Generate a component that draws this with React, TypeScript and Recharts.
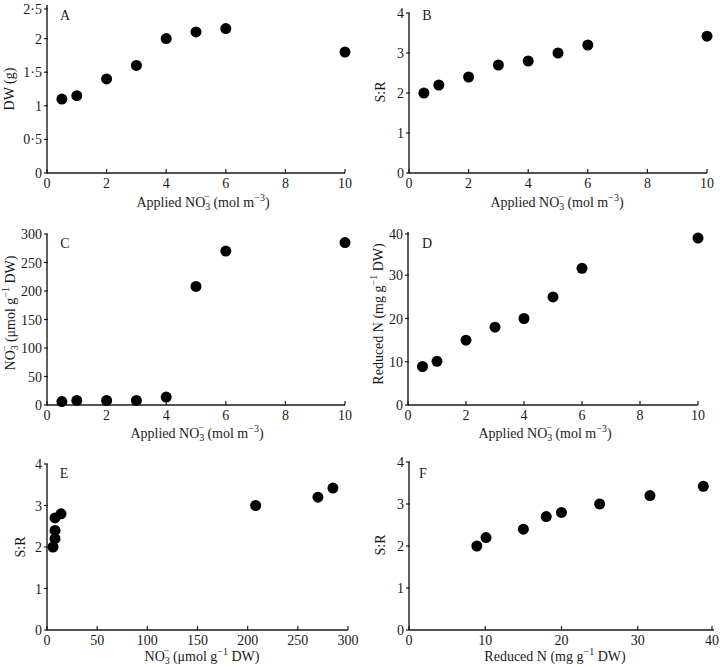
import React from "react";
import { ScatterChart, Scatter, XAxis, YAxis } from "recharts";

const appliedNO3 = [0.5, 1, 2, 3, 4, 5, 6, 10];
const dryWeight = [1.1, 1.15, 1.4, 1.6, 2.0, 2.1, 2.15, 1.8];
const shootRoot = [2.0, 2.2, 2.4, 2.7, 2.8, 3.0, 3.2, 3.42];
const tissueNO3 = [6, 8, 8, 8, 14, 208, 270, 285];
const reducedN = [8.9, 10.1, 15, 18, 20, 25, 31.6, 38.6];

const appliedTicks = [0, 2, 4, 6, 8, 10];
const dwTicks = [0, 0.5, 1, 1.5, 2, 2.5];
const srTicks = [0, 1, 2, 3, 4];
const no3Ticks = [0, 50, 100, 150, 200, 250, 300];
const redNTicks = [0, 10, 20, 30, 40];

const FONT = "'Liberation Serif', 'DejaVu Serif', serif";
const INK = "#1a1a1a";

const fmt = (v: number) => String(v).replace(".", "·");

const XTick = (props: any) => {
  const { x, y, payload } = props;
  return (
    <g>
      <line x1={x} y1={y} x2={x} y2={y - 4} stroke={INK} strokeWidth={1.2} />
      <text x={x} y={y + 15} textAnchor="middle" fontFamily={FONT} fontSize={14} fill={INK}>
        {fmt(payload.value)}
      </text>
    </g>
  );
};

const YTick = (props: any) => {
  const { x, y, payload } = props;
  return (
    <g>
      <line x1={x - 3} y1={y} x2={x + 1} y2={y} stroke={INK} strokeWidth={1.2} />
      <text x={x - 5} y={y + 5} textAnchor="end" fontFamily={FONT} fontSize={14} fill={INK}>
        {fmt(payload.value)}
      </text>
    </g>
  );
};

// NO3- with stacked sub/superscript, baseline restored afterwards
const no3 = (k: string) => [
  <tspan key={k + "a"}>NO</tspan>,
  <tspan key={k + "b"} dy={3} fontSize={10}>3</tspan>,
  <tspan key={k + "c"} dx={-6} dy={-10} fontSize={10}>−</tspan>,
  <tspan key={k + "d"} dy={7}> </tspan>,
];

const labels: Record<string, any[]> = {
  applied: [
    <tspan key="p">Applied </tspan>,
    ...no3("n"),
    <tspan key="q">(mol m</tspan>,
    <tspan key="r" dy={-6} fontSize={10}>−3</tspan>,
    <tspan key="s" dy={6}>)</tspan>,
  ],
  dw: [<tspan key="a">DW (g)</tspan>],
  sr: [<tspan key="a">S:R</tspan>],
  no3: [
    ...no3("n"),
    <tspan key="q">(μmol g</tspan>,
    <tspan key="r" dy={-6} fontSize={10}>−1</tspan>,
    <tspan key="s" dy={6}> DW)</tspan>,
  ],
  redN: [
    <tspan key="p">Reduced N (mg g</tspan>,
    <tspan key="r" dy={-6} fontSize={10}>−1</tspan>,
    <tspan key="s" dy={6}> DW)</tspan>,
  ],
};

type Panel = {
  letter: string;
  left: number;
  top: number;
  h: number;
  plot: [number, number, number, number]; // left, right, top, bottom (cell local)
  xs: number[];
  ys: number[];
  xTicks: number[];
  yTicks: number[];
  xLabel: string;
  yLabel: string;
  xLab: [number, number];
  yLab: [number, number];
  letterPos: [number, number];
};

const panels: Panel[] = [
  { letter: "A", left: 0, top: 0, h: 225, plot: [47, 345, 5, 173], xs: appliedNO3, ys: dryWeight, xTicks: appliedTicks, yTicks: dwTicks, xLabel: "applied", yLabel: "dw", xLab: [203, 207], yLab: [14, 89], letterPos: [65, 20] },
  { letter: "B", left: 360, top: 0, h: 225, plot: [49, 347, 13, 173], xs: appliedNO3, ys: shootRoot, xTicks: appliedTicks, yTicks: srTicks, xLabel: "applied", yLabel: "sr", xLab: [197, 207], yLab: [25, 92], letterPos: [67, 20] },
  { letter: "C", left: 0, top: 225, h: 225, plot: [47, 345, 9, 180], xs: appliedNO3, ys: tissueNO3, xTicks: appliedTicks, yTicks: no3Ticks, xLabel: "applied", yLabel: "no3", xLab: [197, 213], yLab: [15, 88], letterPos: [65, 23] },
  { letter: "D", left: 360, top: 225, h: 225, plot: [48, 338, 7, 180], xs: appliedNO3, ys: reducedN, xTicks: appliedTicks, yTicks: redNTicks, xLabel: "applied", yLabel: "redN", xLab: [185, 213], yLab: [23, 89], letterPos: [67, 23] },
  { letter: "E", left: 0, top: 450, h: 217, plot: [47, 348, 14, 180], xs: tissueNO3, ys: shootRoot, xTicks: no3Ticks, yTicks: srTicks, xLabel: "no3", yLabel: "sr", xLab: [202, 211], yLab: [25, 97], letterPos: [64, 28] },
  { letter: "F", left: 360, top: 450, h: 217, plot: [49, 354, 12, 180], xs: reducedN, ys: shootRoot, xTicks: redNTicks, yTicks: srTicks, xLabel: "redN", yLabel: "sr", xLab: [195, 211], yLab: [25, 95], letterPos: [63, 28] },
];

const Dot = (p: any) => <circle cx={p.cx} cy={p.cy} r={5.5} fill="#000" />;

function PanelChart({ p }: { p: Panel }) {
  const [pl, pr, pt, pb] = p.plot;
  const data = p.xs.map((x, i) => ({ x, y: p.ys[i] }));
  const xMax = p.xTicks[p.xTicks.length - 1];
  const yMax = p.yTicks[p.yTicks.length - 1];
  return (
    <div style={{ position: "absolute", left: p.left, top: p.top }}>
      <ScatterChart width={360} height={p.h} margin={{ top: pt, right: 360 - pr, left: 0, bottom: 0 }}>
        <XAxis
          type="number"
          dataKey="x"
          domain={[0, xMax]}
          ticks={p.xTicks}
          height={p.h - pb}
          tickSize={0}
          tickMargin={0}
          tickLine={false}
          tick={XTick}
          axisLine={{ stroke: INK, strokeWidth: 1.4 }}
          label={{
            content: () => (
              <text x={p.xLab[0]} y={p.xLab[1]} textAnchor="middle" fontFamily={FONT} fontSize={14} fill={INK}>
                {labels[p.xLabel]}
              </text>
            ),
          }}
        />
        <YAxis
          type="number"
          dataKey="y"
          domain={[0, yMax]}
          ticks={p.yTicks}
          width={pl}
          tickSize={0}
          tickMargin={0}
          tickLine={false}
          tick={YTick}
          axisLine={{ stroke: INK, strokeWidth: 1.4 }}
          label={{
            content: () => (
              <g>
                <text
                  x={p.yLab[0]}
                  y={p.yLab[1]}
                  transform={`rotate(-90, ${p.yLab[0]}, ${p.yLab[1]})`}
                  textAnchor="middle"
                  fontFamily={FONT}
                  fontSize={14}
                  fill={INK}
                >
                  {labels[p.yLabel]}
                </text>
                <text x={p.letterPos[0]} y={p.letterPos[1]} textAnchor="middle" fontFamily={FONT} fontSize={14} fill={INK}>
                  {p.letter}
                </text>
              </g>
            ),
          }}
        />
        <Scatter data={data} fill="#000" shape={Dot} isAnimationActive={false} />
      </ScatterChart>
    </div>
  );
}

export default function App() {
  return (
    <div style={{ position: "absolute", left: 0, top: 0, width: 720, height: 667, background: "#fff" }}>
      {panels.map((p) => (
        <PanelChart key={p.letter} p={p} />
      ))}
    </div>
  );
}
